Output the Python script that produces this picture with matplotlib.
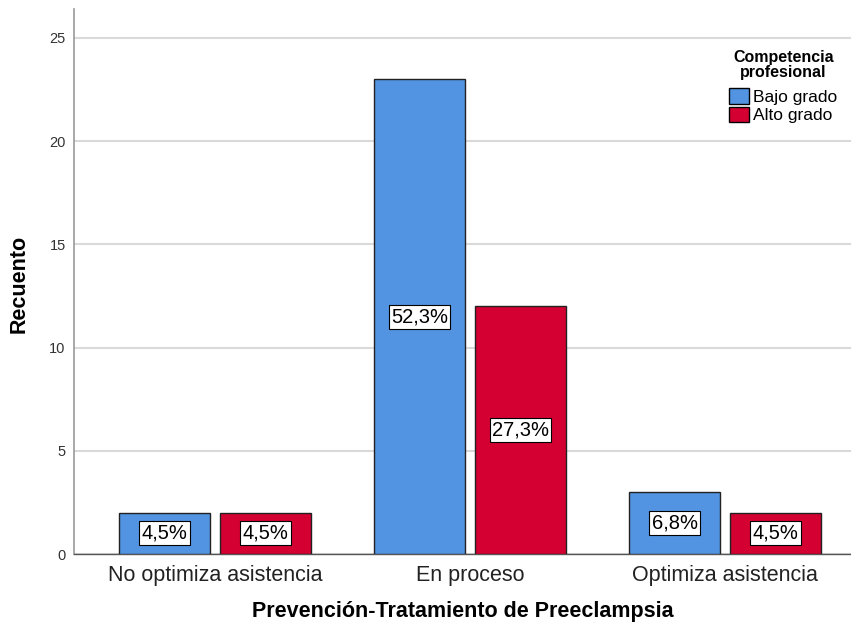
import matplotlib
matplotlib.use("Agg")
import matplotlib.pyplot as plt
import numpy as np
from matplotlib.patches import Patch

categories = ["No optimiza asistencia", "En proceso", "Optimiza asistencia"]
series_names = ["Bajo grado", "Alto grado"]
bajo = [2, 23, 3]
alto = [2, 12, 2]
bajo_pct = ["4,5%", "52,3%", "6,8%"]
alto_pct = ["4,5%", "27,3%", "4,5%"]
yticks = [0, 5, 10, 15, 20, 25]

plt.rcParams['font.family'] = ['Liberation Sans', 'DejaVu Sans']

colors = ["#5294E2", "#D50032"]

fig = plt.figure(figsize=(8.51, 6.23), dpi=100)
ax = fig.add_axes([74/851, 69/623, 1 - 74/851, (554-9)/623])

x = np.arange(len(categories))
w = 0.357
off = 0.198
for vals, pcts, col, sgn in [(bajo, bajo_pct, colors[0], -1), (alto, alto_pct, colors[1], 1)]:
    bars = ax.bar(x + sgn*off, vals, width=w, color=col, edgecolor="#222222", linewidth=1.0, zorder=3)
    for b, v, p in zip(bars, vals, pcts):
        ax.text(b.get_x() + b.get_width()/2, v/2, p, ha="center", va="center", fontsize=14.5,
                zorder=4, bbox=dict(boxstyle="square,pad=0.12", facecolor="white", edgecolor="black", linewidth=0.8))

ax.set_xlim(-0.553, 2.494)
ax.set_ylim(0, 26.4)
ax.set_yticks(yticks)
ax.set_yticklabels([str(t) for t in yticks], fontsize=10.5, color="#333333")
ax.set_xticks(x)
ax.set_xticklabels(categories, fontsize=15.5, color="#222222")
ax.tick_params(axis="y", length=0, pad=6)
ax.tick_params(axis="x", length=0, pad=8)
ax.grid(axis="y", color="#D9D9D9", linewidth=1.5, zorder=0)
ax.set_axisbelow(True)
for s in ["top", "right"]:
    ax.spines[s].set_visible(False)
ax.spines["left"].set_color("#999999")
ax.spines["left"].set_linewidth(1.2)
ax.spines["bottom"].set_color("#555555")
ax.spines["bottom"].set_linewidth(1.0)

ax.set_xlabel("Prevención-Tratamiento de Preeclampsia", fontsize=15.5, fontweight="bold", labelpad=11)
ax.set_ylabel("Recuento", fontsize=15.5, fontweight="bold")
ax.yaxis.set_label_coords(-0.057, 0.495)

handles = [Patch(facecolor=colors[i], edgecolor="black", label=series_names[i]) for i in range(2)]
leg = fig.legend(handles=handles, title="Competencia\nprofesional", loc="upper right",
                 bbox_to_anchor=(851/851, (623-36)/623), fontsize=12.5, title_fontsize=11.5, frameon=True,
                 handlelength=1.1, handleheight=1.0, handletextpad=0.25, labelspacing=0.1, borderpad=0.3)
leg.get_frame().set_facecolor("white")
leg.get_frame().set_edgecolor("white")
leg.get_frame().set_alpha(1)
leg.get_title().set_fontweight("bold")
leg.get_title().set_multialignment("center")
leg.get_title().set_linespacing(1.0)
leg._legend_box.sep = 6
leg.set_zorder(5)

fig.savefig("out.png", dpi=100)
